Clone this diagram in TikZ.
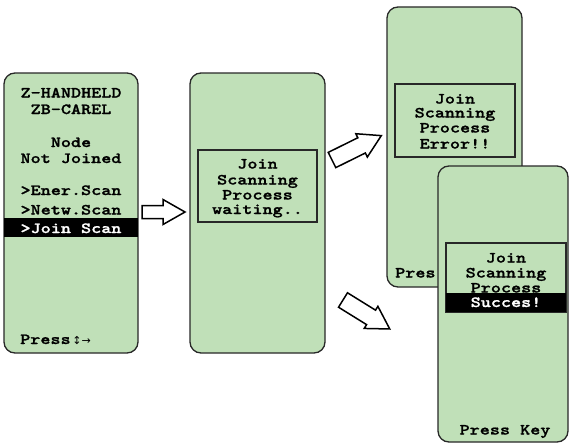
\documentclass[tikz,border=0pt]{standalone}
\usepackage{fontspec}
\newfontfamily\lcdfont{lmmonolt10-bold.otf}[FakeStretch=1.24, FakeBold=1.3]
\newfontfamily\arrowfont{DejaVu Sans}
\definecolor{lcd}{RGB}{192,224,184}
\definecolor{edge}{RGB}{40,40,40}
\tikzset{
  panel/.style={draw=edge, line width=1.3pt, fill=lcd, rounded corners=11pt, inner sep=0pt},
  lcdbox/.style={draw=edge, line width=1.4pt, inner sep=0pt},
  bar/.style={fill=black, inner sep=0pt},
  txt/.style={font=\fontsize{15.5}{15}\lcdfont, inner sep=0pt, anchor=base, text=black,
              text height=10pt, text depth=3pt},
  inv/.style={txt, text=white},
  blockarrow/.style={draw=black, line width=1.5pt, fill=white, line join=miter},
}
\newcommand\blkarrow[5]{%
  \draw[blockarrow, shift={#1}, rotate=#2]
    (0,-#4) -- ({#3-22},-#4) -- ({#3-22},-#5) -- (#3,0) -- ({#3-22},#5) -- ({#3-22},#4) -- (0,#4) -- cycle;}
\begin{document}
\begin{tikzpicture}[x=1pt, y=-1pt]
\useasboundingbox[fill=white] (0,0) rectangle (569,444);

% panel 1
\node[panel, minimum width=134, minimum height=280] (p1) at (71,213) {};
\node[bar, minimum width=134, minimum height=19] (bar1) at (71,227.5) {};
\node[txt] (t11) at (71,97.5) {Z-HANDHELD};
\node[txt] (t12) at (71,114) {ZB-CAREL};
\node[txt] (t13) at (71,147) {Node};
\node[txt] (t14) at (71,163) {Not Joined};
\node[txt] (t15) at (71,195) {>Ener.Scan};
\node[txt] (t16) at (71,214.5) {>Netw.Scan};
\node[inv] (t17) at (71,233) {>Join Scan};
\node[txt, anchor=base west] (t18) at (20,344) {Press{\arrowfont\fontsize{11}{11}\selectfont\,↕→}};

% panel 2
\node[panel, minimum width=135, minimum height=280] (p2) at (257.5,213) {};
\node[lcdbox, minimum width=119, minimum height=72] (b2) at (257.5,186) {};
\node[txt] (t21) at (257.5,168.5) {Join};
\node[txt] (t22) at (257.5,184.5) {Scanning};
\node[txt] (t23) at (257.5,199.5) {Process};
\node[txt] (t24) at (257.5,214) {waiting..};

% panel 3
\node[panel, minimum width=135, minimum height=280] (p3) at (454.5,147) {};
\node[lcdbox, minimum width=120, minimum height=73] (b3) at (455,120.5) {};
\node[txt] (t31) at (455,103.5) {Join};
\node[txt] (t32) at (455,117.5) {Scanning};
\node[txt] (t33) at (455,132.5) {Process};
\node[txt] (t34) at (455,148.5) {Error!!};
\node[txt, anchor=base west] (t35) at (395,277.5) {Pres};

% panel 4
\node[panel, minimum width=130, minimum height=276] (p4) at (503,304) {};
\node[lcdbox, minimum width=120, minimum height=69] (b4) at (506,277.5) {};
\node[bar, minimum width=120, minimum height=19] (bar4) at (506,302.5) {};
\node[txt] (t41) at (506,262.5) {Join};
\node[txt] (t42) at (506,277.5) {Scanning};
\node[txt] (t43) at (506,292.5) {Process};
\node[inv] (t44) at (506,307) {Succes!};
\node[txt] (t45) at (505,434.5) {Press Key};

% arrows
\blkarrow{(142,212)}{0}{43}{6.5}{12.5}
\blkarrow{(332,160)}{26.3}{55}{8.5}{13}
\blkarrow{(343,300)}{-31.8}{55}{8.5}{13}
\end{tikzpicture}
\end{document}
